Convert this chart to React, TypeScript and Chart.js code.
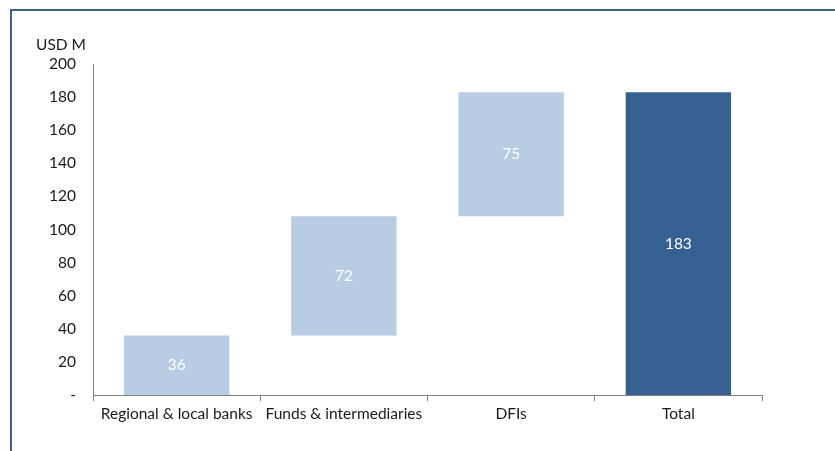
import React, { useEffect, useRef } from "react";
import { Chart, registerables } from "chart.js";

Chart.register(...registerables);

const categories = ["Regional & local banks", "Funds & intermediaries", "DFIs", "Total"];
const increments = [36, 72, 75];
const totalValue = 183;
const yTicks = [0, 20, 40, 60, 80, 100, 120, 140, 160, 180, 200];
const axisTitle = "USD M";

const FONT = "Lato, 'Open Sans', sans-serif";
const FS = 15.5;

function buildRanges(): [number, number][] {
  const out: [number, number][] = [];
  let base = 0;
  for (const v of increments) {
    out.push([base, base + v]);
    base += v;
  }
  out.push([0, totalValue]);
  return out;
}

const labelValues = [...increments, totalValue];

const framePlugin = {
  id: "frame",
  beforeDraw(chart: any) {
    const ctx = chart.ctx;
    ctx.save();
    ctx.fillStyle = "#ffffff";
    ctx.fillRect(0, 0, chart.width, chart.height);
    ctx.strokeStyle = "#3d5f8c";
    ctx.lineWidth = 2;
    ctx.beginPath();
    ctx.moveTo(11, chart.height);
    ctx.lineTo(11, 10);
    ctx.lineTo(chart.width, 10);
    ctx.stroke();
    ctx.restore();
  },
  afterDraw(chart: any) {
    const ctx = chart.ctx;
    const y = chart.scales.y;
    ctx.save();
    ctx.font = `${FS}px ${FONT}`;
    ctx.fillStyle = "#1a1a1a";
    ctx.textAlign = "center";
    ctx.textBaseline = "middle";
    ctx.fillText(axisTitle, 61, y.getPixelForValue(200) - 19);
    const meta = chart.getDatasetMeta(0);
    ctx.fillStyle = "#ffffff";
    meta.data.forEach((bar: any, i: number) => {
      const cy = (bar.y + bar.base) / 2;
      ctx.fillText(String(labelValues[i]), bar.x, cy);
    });
    ctx.restore();
  },
};

export default function App() {
  const ref = useRef<HTMLCanvasElement | null>(null);
  useEffect(() => {
    if (!ref.current) return;
    const chart = new Chart(ref.current, {
      type: "bar",
      data: {
        labels: categories,
        datasets: [
          {
            data: buildRanges() as any,
            backgroundColor: ["#b8cce4", "#b8cce4", "#b8cce4", "#366092"],
            borderWidth: 0,
            categoryPercentage: 1,
            barPercentage: 0.63,
          },
        ],
      },
      options: {
        responsive: false,
        animation: false,
        layout: { padding: { top: 64, right: 73, left: 0, bottom: 0 } },
        plugins: { legend: { display: false }, tooltip: { enabled: false } },
        scales: {
          x: {
            grid: {
              offset: true,
              drawOnChartArea: false,
              drawTicks: true,
              tickLength: 6,
              color: "#7f7f7f",
            },
            border: { color: "#7f7f7f", width: 1 },
            ticks: {
              color: "#1a1a1a",
              font: { family: FONT, size: FS },
              padding: 4,
              maxRotation: 0,
              autoSkip: false,
            },
            afterFit(scale: any) {
              scale.height = 56;
            },
          },
          y: {
            min: 0,
            max: 200,
            grid: { display: false, drawTicks: false },
            border: { color: "#7f7f7f", width: 1 },
            afterBuildTicks(scale: any) {
              scale.ticks = yTicks.map((v) => ({ value: v }));
            },
            ticks: {
              color: "#1a1a1a",
              font: { family: FONT, size: FS },
              padding: 17,
              callback: (v: any) => (Number(v) === 0 ? "-" : String(v)),
            },
            afterFit(scale: any) {
              scale.width = 93;
            },
          },
        },
      },
      plugins: [framePlugin],
    });
    return () => chart.destroy();
  }, []);
  return (
    <div style={{ position: "fixed", left: 0, top: 0, width: 835, height: 451 }}>
      <canvas ref={ref} width={835} height={451} style={{ display: "block" }} />
    </div>
  );
}
